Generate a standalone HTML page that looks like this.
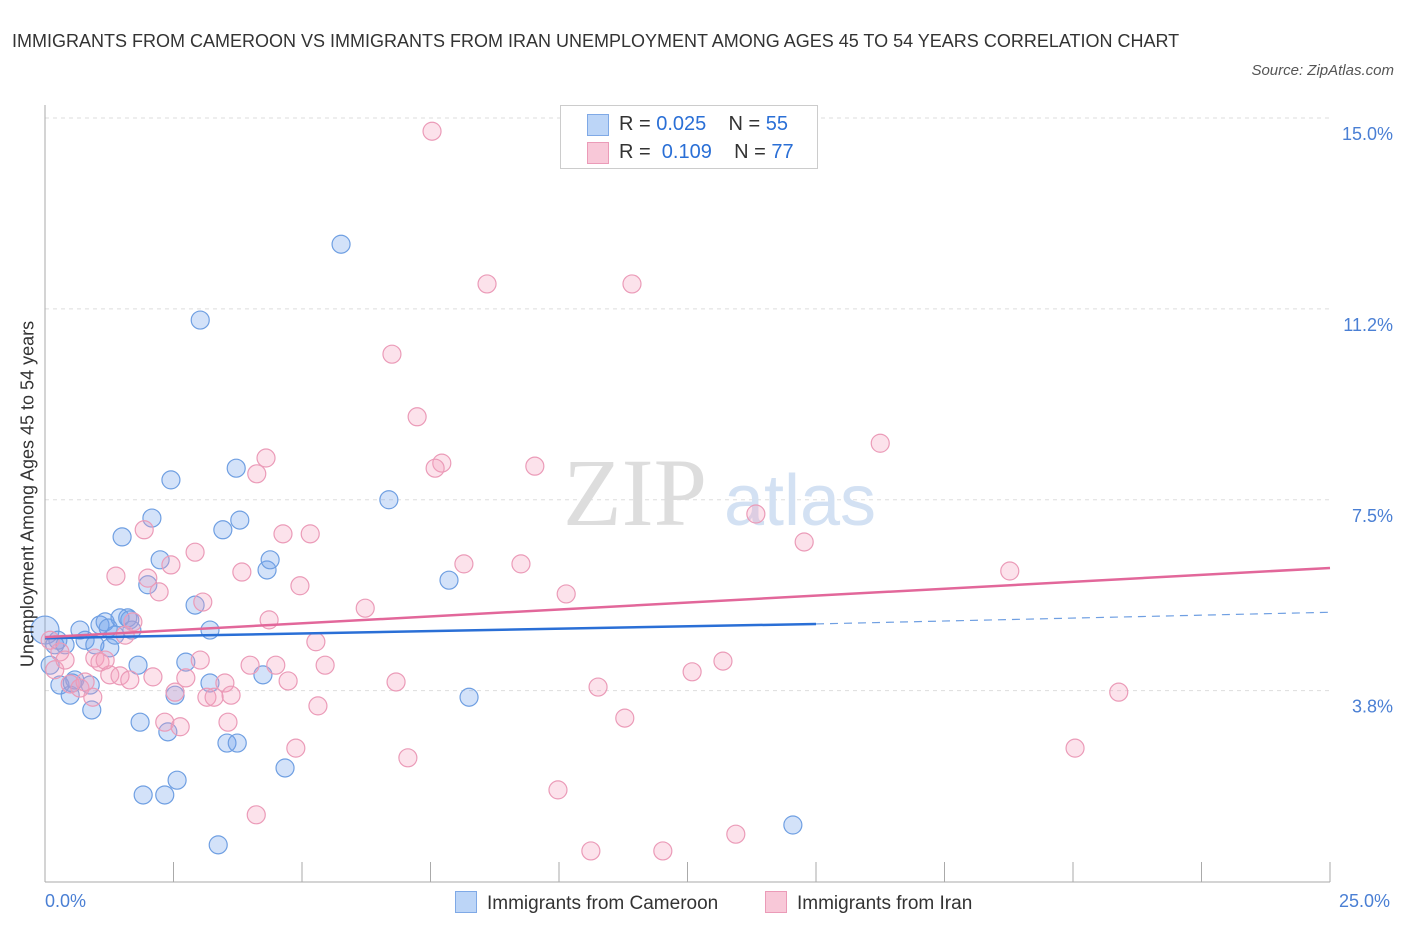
<!DOCTYPE html>
<html><head><meta charset="utf-8">
<style>
body{margin:0;background:#fff;font-family:"Liberation Sans",sans-serif;}
#wrap{position:relative;width:1406px;height:930px;overflow:hidden;}
.t{position:absolute;white-space:nowrap;}
</style></head>
<body>
<div id="wrap">
<div class="t" style="left:12px;top:22px;font-size:18px;color:#333;line-height:38px;width:1180px;white-space:normal;">IMMIGRANTS FROM CAMEROON VS IMMIGRANTS FROM IRAN UNEMPLOYMENT AMONG AGES 45 TO 54 YEARS CORRELATION CHART</div>
<div class="t" style="right:12px;top:62px;font-size:15px;color:#555;font-style:italic;">Source: ZipAtlas.com</div>
<svg id="svg" width="1406" height="930" style="position:absolute;left:0;top:0"></svg>
</div>
<script>
const xTicks=[0,2.5,5,7.5,10,12.5,15,17.5,20,22.5,25];
const yTicks=[3.75,7.5,11.25,15];
const yTickLabels=["3.8%","7.5%","11.2%","15.0%"];
const blueX=[0,.19,.39,.29,.49,.58,.68,.78,.88,.91,.97,1.07,1.17,1.26,1.36,1.46,1.50,1.61,1.65,1.81,1.85,1.91,2.00,2.08,2.24,2.33,2.39,2.45,2.53,2.57,2.74,2.92,3.02,3.21,3.21,3.37,3.46,3.54,3.72,3.74,3.79,4.24,4.32,4.38,4.67,5.76,6.69,7.86,8.25,14.55,.10,.25,.53,1.23,1.69];
const blueY=[4.94,4.65,4.65,3.86,3.66,3.96,4.94,4.74,3.86,3.37,4.65,5.04,5.10,4.59,4.84,5.18,6.77,5.18,5.14,4.25,3.13,1.70,5.83,7.14,6.32,1.70,2.94,7.89,3.66,1.99,4.31,5.43,11.03,4.94,3.90,0.72,6.91,2.72,8.12,2.72,7.10,4.06,6.12,6.32,2.23,12.52,7.50,5.92,3.62,1.11,4.25,4.74,3.90,4.98,4.94];
const pinkX=[7.53,8.60,11.42,6.75,7.24,16.25,4.30,7.72,7.59,4.12,9.53,13.83,1.93,5.16,4.63,14.77,2.92,2.45,3.83,1.38,8.15,9.26,18.77,2.00,4.96,2.22,3.07,10.14,6.23,4.36,1.71,1.56,5.27,.10,.29,.97,1.07,3.02,3.99,4.49,5.45,13.19,12.59,1.26,1.46,1.65,2.10,2.74,3.50,4.73,6.83,.49,.68,.93,2.53,3.15,3.29,3.62,10.76,20.89,5.31,3.56,11.28,2.33,2.63,4.88,20.04,7.06,9.98,4.11,13.44,10.62,12.02,.19,.39,.78,1.17];
const pinkY=[14.74,11.74,11.74,10.36,9.13,8.61,8.32,8.22,8.12,8.01,8.16,7.22,6.91,6.83,6.83,6.67,6.47,6.22,6.08,6.00,6.24,6.24,6.10,5.96,5.81,5.69,5.49,5.65,5.37,5.14,5.10,4.84,4.71,4.74,4.51,4.39,4.31,4.35,4.25,4.25,4.25,4.33,4.12,4.06,4.04,3.96,4.02,4.00,3.90,3.94,3.92,3.88,3.80,3.62,3.72,3.62,3.62,3.66,3.82,3.72,3.45,3.13,3.21,3.13,3.04,2.62,2.62,2.43,1.80,1.31,0.93,0.60,0.60,4.16,4.35,3.92,4.35];
const blueTrendX=[0,15],blueTrendY=[4.78,5.06],blueDashX=[15,25],blueDashY=[5.06,5.29];
const pinkTrendX=[0,25],pinkTrendY=[4.80,6.16];
const X=v=>45+v*51.4, Y=v=>118+(15-v)*50.9;
const svg=document.getElementById('svg'),NS='http://www.w3.org/2000/svg';
function mk(tag,a,name){const e=document.createElementNS(NS,tag);for(const k in a)e.setAttribute(k,a[k]);


svg.appendChild(e);return e;}
yTicks.forEach((v,i)=>{mk('line',{x1:45,x2:1330,y1:Y(v),y2:Y(v),stroke:'#ddd','stroke-dasharray':'4,4'},'y-gridline');
const t=mk('text',{x:1393,y:Y(v)+22,'text-anchor':'end','font-size':18,fill:'#4a7fd4'},'y-tick-label');t.textContent=yTickLabels[i];});
mk('line',{x1:45,x2:45,y1:105,y2:882,stroke:'#aaa'},'y-axis');
mk('line',{x1:45,x2:1330,y1:882,y2:882,stroke:'#aaa'},'x-axis');
xTicks.forEach(v=>mk('line',{x1:X(v),x2:X(v),y1:862,y2:882,stroke:'#aaa'},'x-tick'));
let w=mk('text',{x:635,y:525,'text-anchor':'middle','font-size':96,fill:'#ddd','font-family':'Liberation Serif'},'watermark-zip');w.textContent='ZIP';
w=mk('text',{x:800,y:525,'text-anchor':'middle','font-size':72,fill:'#d3e1f3'},'watermark-atlas');w.textContent='atlas';
blueX.forEach((x,i)=>mk('circle',{cx:X(x),cy:Y(blueY[i]),r:i==0?14:9,fill:'rgba(110,160,235,0.3)',stroke:'#6f9fe2','stroke-width':1.2},'blue-point'));
pinkX.forEach((x,i)=>mk('circle',{cx:X(x),cy:Y(pinkY[i]),r:9,fill:'rgba(245,160,190,0.3)',stroke:'#eb9bb8','stroke-width':1.2},'pink-point'));
mk('line',{x1:X(blueTrendX[0]),x2:X(blueTrendX[1]),y1:Y(blueTrendY[0]),y2:Y(blueTrendY[1]),stroke:'#2a6fd6','stroke-width':2.5},'blue-trendline');
mk('line',{x1:X(blueDashX[0]),x2:X(blueDashX[1]),y1:Y(blueDashY[0]),y2:Y(blueDashY[1]),stroke:'#6f9fe2','stroke-width':1.2,'stroke-dasharray':'8,6'},'blue-trendline-dashed');
mk('line',{x1:X(pinkTrendX[0]),x2:X(pinkTrendX[1]),y1:Y(pinkTrendY[0]),y2:Y(pinkTrendY[1]),stroke:'#e2679a','stroke-width':2.5},'pink-trendline');
</script>
<div class="t" style="left:28px;top:494px;font-size:18px;color:#333;transform:translate(-50%,-50%) rotate(-90deg);">Unemployment Among Ages 45 to 54 years</div>
<div class="t" style="left:45px;top:891px;font-size:18px;color:#4a7fd4;">0.0%</div>
<div class="t" style="left:1339px;top:891px;font-size:18px;color:#4a7fd4;">25.0%</div>
<div style="position:absolute;left:560px;top:105px;width:256px;height:62px;border:1px solid #ccc;background:#fff;font-size:20px;color:#333;">
<div style="position:absolute;left:26px;top:8px;width:20px;height:20px;background:#bcd5f7;border:1px solid #7fa9e6;"></div>
<div class="t" style="left:58px;top:7px;">R = <span style="color:#2a6fd6">0.025</span>&nbsp;&nbsp;&nbsp; N = <span style="color:#2a6fd6">55</span></div>
<div style="position:absolute;left:26px;top:36px;width:20px;height:20px;background:#f8c8d8;border:1px solid #eb9bb8;"></div>
<div class="t" style="left:58px;top:35px;">R = &nbsp;<span style="color:#2a6fd6">0.109</span>&nbsp;&nbsp;&nbsp; N = <span style="color:#2a6fd6">77</span></div>
</div>
<div style="position:absolute;left:455px;top:891px;font-size:19px;color:#333;"><span style="display:inline-block;width:20px;height:20px;background:#bcd5f7;border:1px solid #7fa9e6;vertical-align:-4px;margin-right:10px;"></span>Immigrants from Cameroon</div>
<div style="position:absolute;left:765px;top:891px;font-size:19px;color:#333;"><span style="display:inline-block;width:20px;height:20px;background:#f8c8d8;border:1px solid #eb9bb8;vertical-align:-4px;margin-right:10px;"></span>Immigrants from Iran</div>
</body></html>
